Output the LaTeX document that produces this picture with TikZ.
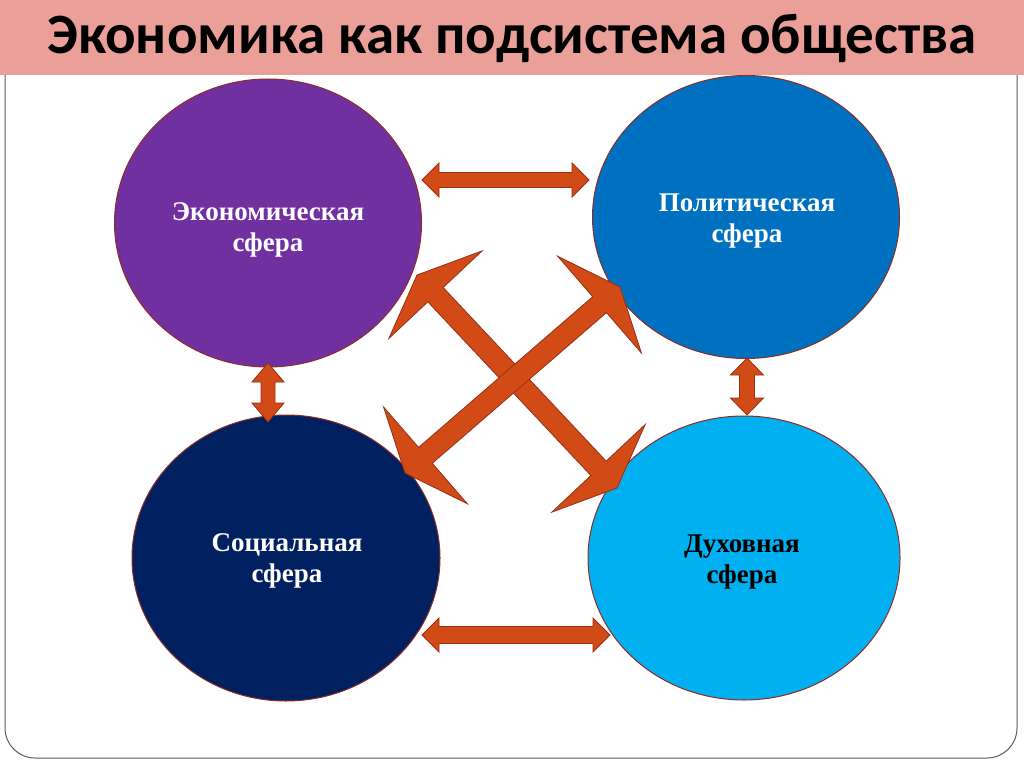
\documentclass[tikz,border=0pt]{standalone}
\usepackage{fontspec}
\setmainfont{Liberation Serif}
\newfontfamily\titlefont{Carlito}
\usetikzlibrary{calc,shapes.geometric}
\definecolor{barpink}{RGB}{234,160,152}
\definecolor{arrfill}{RGB}{210,74,22}
\definecolor{arrline}{RGB}{150,48,24}
\definecolor{circline}{RGB}{140,45,35}
\definecolor{cpurple}{RGB}{112,48,160}
\definecolor{cblue}{RGB}{0,112,192}
\definecolor{cnavy}{RGB}{0,32,96}
\definecolor{ccyan}{RGB}{0,176,240}
\definecolor{framegray}{RGB}{90,90,90}
\tikzset{
  sphere/.style={ellipse, draw=circline, line width=1pt, inner sep=0pt},
  spheretext/.style={align=center, inner sep=0pt, font=\fontsize{27}{31}\selectfont\bfseries},
  arrowshape/.style={fill=arrfill, draw=arrline, line width=0.8pt, line join=miter},
}
% #1 start, #2 end, #3 shaft half width, #4 head length, #5 head half width
\newcommand{\dblarr}[5]{%
  \draw[arrowshape] (#1)
    -- ($(#1)!#4!(#2)!#5!90:(#2)$)
    -- ($(#1)!#4!(#2)!#3!90:(#2)$)
    -- ($(#2)!#4!(#1)!#3!-90:(#1)$)
    -- ($(#2)!#4!(#1)!#5!-90:(#1)$)
    -- (#2)
    -- ($(#2)!#4!(#1)!#5!90:(#1)$)
    -- ($(#2)!#4!(#1)!#3!90:(#1)$)
    -- ($(#1)!#4!(#2)!#3!-90:(#2)$)
    -- ($(#1)!#4!(#2)!#5!-90:(#2)$)
    -- cycle;}
\begin{document}
\begin{tikzpicture}[x=1pt,y=-1pt]
\useasboundingbox (0,0) rectangle (1024,767);
% frame
\draw[framegray, line width=1pt, rounded corners=30pt] (5,60) -- (5,758) -- (1017,758) -- (1017,60);
% title bar
\fill[barpink] (0,0) rectangle (1024,75);
\node (title) at (512,38) {\titlefont\fontsize{57}{62}\selectfont\bfseries Экономика как подсистема общества};
% spheres
\node[sphere, fill=cpurple, minimum width=307pt, minimum height=288pt] (econ) at (268,223) {};
\node[sphere, fill=cblue, minimum width=307pt, minimum height=283pt] (polit) at (746,217) {};
\node[sphere, fill=cnavy, minimum width=308pt, minimum height=286pt] (soc) at (286,558) {};
\node[sphere, fill=ccyan, minimum width=312pt, minimum height=284pt] (spirit) at (744,558) {};
\node[spheretext, text=white] (econ-t) at (268,230) {Экономическая\\сфера};
\node[spheretext, text=white] (polit-t) at (747,221) {Политическая\\сфера};
\node[spheretext, text=white] (soc-t) at (287,561) {Социальная\\сфера};
\node[spheretext, text=black] (spirit-t) at (742,562) {Духовная\\сфера};
% arrow end points
\coordinate (t1) at (422,180); \coordinate (t2) at (589,180);
\coordinate (b1) at (422,635); \coordinate (b2) at (610,635);
\coordinate (l1) at (268,363); \coordinate (l2) at (268,422);
\coordinate (r1) at (747,358); \coordinate (r2) at (747,415);
\coordinate (d1) at (417,275); \coordinate (d2) at (617,488);
\coordinate (e1) at (620,287); \coordinate (e2) at (405,473);
\dblarr{t1}{t2}{7.5pt}{17pt}{17pt}
\dblarr{b1}{b2}{8.5pt}{17pt}{17pt}
\dblarr{l1}{l2}{7pt}{19pt}{16pt}
\dblarr{r1}{r2}{7.5pt}{17pt}{16.5pt}
\dblarr{d1}{d2}{10.5pt}{27pt}{64pt}
\dblarr{e1}{e2}{10.5pt}{27pt}{64pt}
\end{tikzpicture}
\end{document}
